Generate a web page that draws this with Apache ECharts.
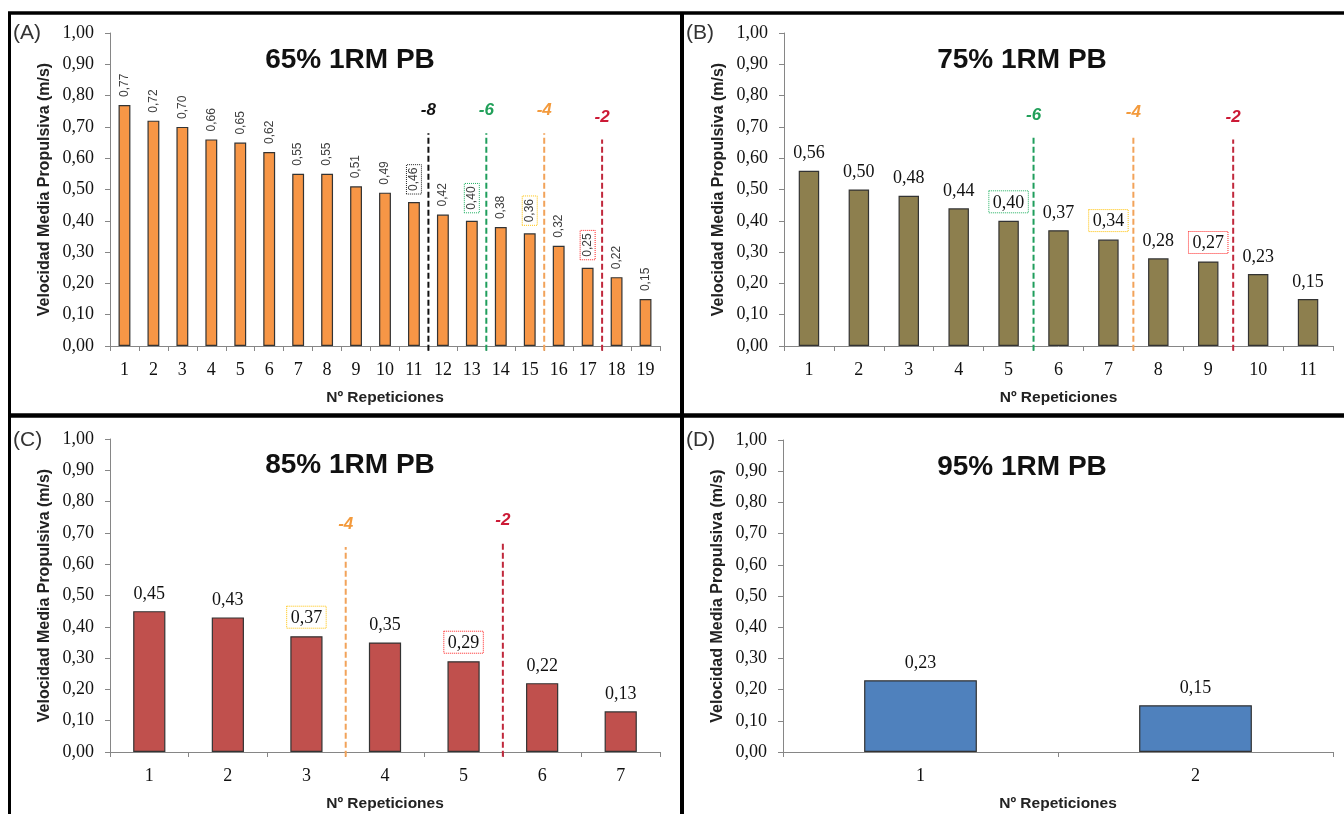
<!DOCTYPE html>
<html><head><meta charset="utf-8">
<script src="https://cdn.jsdelivr.net/npm/echarts/dist/echarts.min.js"></script>
<style>html,body{margin:0;padding:0;background:#fff}#c{width:1344px;height:814px}</style>
</head><body><div id="c"></div>
<script>
// ---- data ----
const titles = ['65% 1RM PB', '75% 1RM PB', '85% 1RM PB', '95% 1RM PB'];
const panelTags = ['(A)', '(B)', '(C)', '(D)'];
const yTicks = [0, 0.1, 0.2, 0.3, 0.4, 0.5, 0.6, 0.7, 0.8, 0.9, 1.0];

const repsA = ['1','2','3','4','5','6','7','8','9','10','11','12','13','14','15','16','17','18','19'];
const valuesA = [0.77, 0.72, 0.70, 0.66, 0.65, 0.62, 0.55, 0.55, 0.51, 0.49, 0.46, 0.42, 0.40, 0.38, 0.36, 0.32, 0.25, 0.22, 0.15];
const cutsA = [11, 13, 15, 17];
const cutTextA = ['-8', '-6', '-4', '-2'];
const cutTopA = [0.68, 0.68, 0.68, 0.66];

const repsB = ['1','2','3','4','5','6','7','8','9','10','11'];
const valuesB = [0.56, 0.50, 0.48, 0.44, 0.40, 0.37, 0.34, 0.28, 0.27, 0.23, 0.15];
const cutsB = [5, 7, 9];
const cutTextB = ['-6', '-4', '-2'];
const cutTopB = [0.665, 0.675, 0.66];

const repsC = ['1','2','3','4','5','6','7'];
const valuesC = [0.45, 0.43, 0.37, 0.35, 0.29, 0.22, 0.13];
const cutsC = [3, 5];
const cutTextC = ['-4', '-2'];
const cutTopC = [0.655, 0.668];

const repsD = ['1','2'];
const valuesD = [0.23, 0.15];
const cutsD = [];
const cutTextD = [];
const cutTopD = [];

// ---- styles ----
const lineColor = {'-8': '#111111', '-6': '#1f9e5c', '-4': '#f2a35a', '-2': '#c0283c'};
const textColor = {'-8': '#111111', '-6': '#22a05a', '-4': '#f39a3c', '-2': '#cc1a36'};
const boxColor  = {'-8': '#222222', '-6': '#1fb060', '-4': '#ffc000', '-2': '#ff2020'};

const comma = v => v.toFixed(2).replace('.', ',');

const panels = [
  {cats: repsA, vals: valuesA, cuts: cutsA, cutText: cutTextA, cutTop: cutTopA, color: '#F79646', rotated: true,
   grid: {left: 110, top: 33, width: 550, height: 313}, tag: [13, 33], title: [350, 60]},
  {cats: repsB, vals: valuesB, cuts: cutsB, cutText: cutTextB, cutTop: cutTopB, color: '#8D7F4E', rotated: false,
   grid: {left: 784, top: 33, width: 549, height: 313}, tag: [686, 33], title: [1022, 60]},
  {cats: repsC, vals: valuesC, cuts: cutsC, cutText: cutTextC, cutTop: cutTopC, color: '#C0504D', rotated: false,
   grid: {left: 110, top: 439, width: 550, height: 313}, tag: [13, 440], title: [350, 465]},
  {cats: repsD, vals: valuesD, cuts: cutsD, cutText: cutTextD, cutTop: cutTopD, color: '#4F81BD', rotated: false,
   grid: {left: 783, top: 440, width: 550, height: 312}, tag: [686, 440], title: [1022, 467]}
];

const option = {animation: false, backgroundColor: '#fff', grid: [], xAxis: [], yAxis: [], series: [], graphic: []};

panels.forEach((p, i) => {
  option.grid.push(Object.assign({outerBoundsMode: 'none', containLabel: false}, p.grid));
  option.xAxis.push({
    type: 'category', gridIndex: i, data: p.cats,
    name: 'Nº Repeticiones', nameLocation: 'middle', nameGap: 44, nameMoveOverlap: false,
    nameTextStyle: {fontFamily: 'Liberation Sans', fontWeight: 'bold', fontSize: 15.5, color: '#222'},
    axisLine: {lineStyle: {color: '#868686', width: 1}},
    axisTick: {show: true, length: 5, lineStyle: {color: '#868686'}},
    axisLabel: {interval: 0, fontFamily: 'Liberation Serif', fontSize: 18, color: '#111', margin: 15},
    splitLine: {show: false}
  });
  option.yAxis.push({
    type: 'value', gridIndex: i, min: yTicks[0], max: yTicks[yTicks.length - 1], interval: 0.1,
    name: 'Velocidad Media Propulsiva (m/s)', nameLocation: 'middle', nameGap: 57, nameRotate: 90, nameMoveOverlap: false,
    nameTextStyle: {fontFamily: 'Liberation Sans', fontWeight: 'bold', fontSize: 16, color: '#222'},
    axisLine: {show: true, lineStyle: {color: '#868686', width: 1}},
    axisTick: {show: true, length: 5, lineStyle: {color: '#868686'}},
    axisLabel: {fontFamily: 'Liberation Serif', fontSize: 18, color: '#111', margin: 16, formatter: v => comma(v)},
    splitLine: {show: false}
  });
});
panels.forEach((p, i) => {
  option.xAxis.push({type: 'value', gridIndex: i, min: 0, max: p.cats.length, show: false});
});

panels.forEach((p, i) => {
  const baseLabel = p.rotated
    ? {show: true, position: 'top', rotate: 90, align: 'left', verticalAlign: 'middle', distance: 8,
       fontFamily: 'Liberation Sans', fontSize: 12, color: '#404040', formatter: d => comma(d.value)}
    : {show: true, position: 'top', distance: 8,
       fontFamily: 'Liberation Serif', fontSize: 18, color: '#111', formatter: d => comma(d.value)};
  option.series.push({
    type: 'bar', xAxisIndex: i, yAxisIndex: i, barWidth: '41%',
    itemStyle: {color: p.color, borderColor: '#333', borderWidth: 1.2},
    label: baseLabel,
    data: p.vals.map((v, k) => {
      const ci = p.cuts.indexOf(k + 1);
      if (ci < 0) return v;
      return {value: v, label: {borderColor: boxColor[p.cutText[ci]], borderType: 'dotted', borderWidth: 1,
        padding: p.rotated ? [2, 3, 1, 3] : [3, 4, 1, 4]}};
    })
  });
  p.cuts.forEach((c, k) => {
    const t = p.cutText[k];
    option.series.push({
      type: 'line', xAxisIndex: 4 + i, yAxisIndex: i, clip: false, silent: true, z: 5,
      symbol: 'circle', symbolSize: 0, showSymbol: true,
      lineStyle: {color: lineColor[t], width: 2, type: [6, 3]},
      data: [[c, -0.015], {value: [c, p.cutTop[k]], label: {show: true, position: 'top', distance: 14,
        formatter: t, color: textColor[t], fontFamily: 'Liberation Sans', fontSize: 17,
        fontWeight: 'bold', fontStyle: 'italic'}}]
    });
  });
  option.graphic.push({type: 'text', x: p.title[0], y: p.title[1], style: {text: titles[i], fill: '#111',
    font: 'bold 28px "Liberation Sans"', textAlign: 'center', textVerticalAlign: 'middle'}});
  option.graphic.push({type: 'text', x: p.tag[0], y: p.tag[1], style: {text: panelTags[i], fill: '#333',
    font: '21px "Liberation Sans"', textAlign: 'left', textVerticalAlign: 'middle'}});
});

// frame lines
[[8, 13, 1344, 13, 3.5], [9.5, 12, 9.5, 814, 3], [682, 12, 682, 814, 4], [8, 415.5, 1344, 415.5, 4.5]].forEach(l => {
  option.graphic.push({type: 'line', shape: {x1: l[0], y1: l[1], x2: l[2], y2: l[3]}, style: {stroke: '#000', lineWidth: l[4]}, z: 100});
});

echarts.init(document.getElementById('c')).setOption(option);
</script></body></html>
